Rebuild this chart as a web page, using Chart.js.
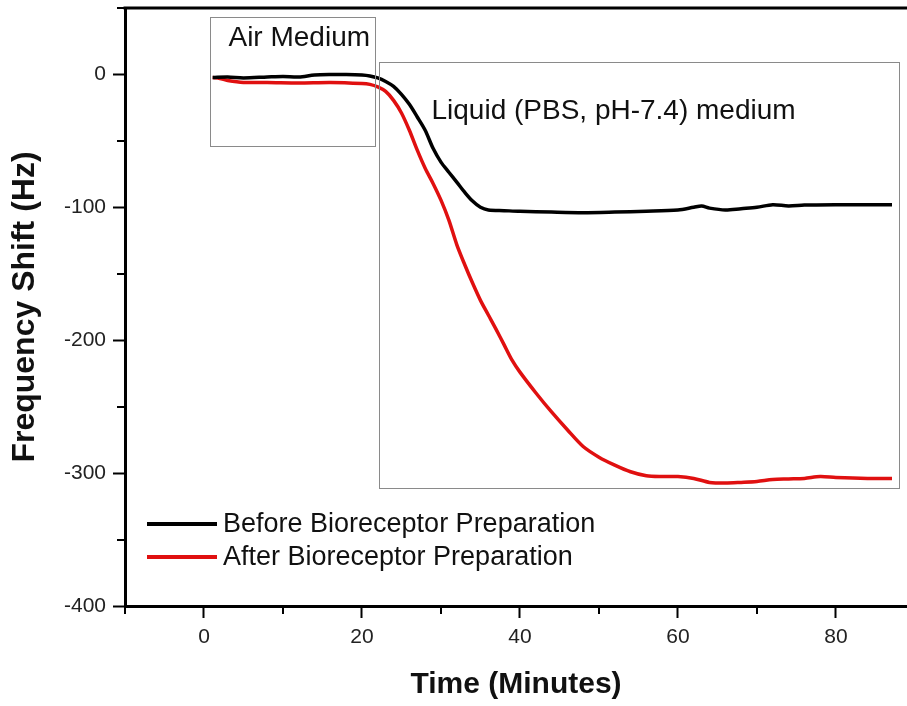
<!DOCTYPE html>
<html>
<head>
<meta charset="utf-8">
<script src="https://cdn.jsdelivr.net/npm/chart.js@4"></script>
<style>
  html, body { margin: 0; padding: 0; background: #fff; }
  #wrap { width: 907px; height: 706px; }
</style>
</head>
<body>
<div id="wrap"><canvas id="freqChart" width="907" height="706"></canvas></div>
<script>
// time in minutes
const beforeTime = [1.1, 3, 5, 8, 10, 12, 14, 16, 18, 20, 21, 22, 23, 24, 25, 26, 27, 28, 29, 30, 31, 32, 33, 34, 35, 36, 38, 40, 44, 48, 52, 56, 60, 62, 63, 64, 66, 68, 70, 72, 74, 76, 80, 84, 87.1];
const beforeShift = [-2.3, -1.9, -2.6, -1.9, -1.5, -1.9, -0.4, 0, 0, -0.4, -1.1, -2.6, -5.3, -9, -15, -22.5, -32, -42, -55.6, -66, -73.6, -81, -88.6, -95.3, -100, -102, -102.5, -103, -103.6, -104, -103.6, -103, -102, -100, -99, -100.6, -102, -101, -100, -98, -99, -98.3, -98, -98, -98];

const afterTime = [1.1, 2, 3, 5, 8, 12, 16, 20, 21, 22, 23, 24, 25, 26, 27, 28, 29, 30, 31, 32, 33, 34, 35, 36, 37, 38, 39, 40, 42, 44, 46, 48, 50, 52, 54, 56, 58, 60, 62, 64, 66, 68, 70, 72, 74, 76, 78, 80, 84, 87.1];
const afterShift = [-2.3, -3, -4.5, -6, -6, -6.4, -6, -6.8, -7.5, -9.4, -12.8, -19.5, -29, -42, -57, -70.6, -82, -94.6, -109.6, -128, -143, -157, -170, -181, -192, -203.5, -215, -224, -239.5, -254, -267.4, -280, -288, -294, -299, -302, -302.6, -302.6, -304, -307, -307.5, -307, -306.3, -304.8, -304.4, -304, -302.6, -303.3, -304, -304];

const seriesLabels = ["Before Bioreceptor Preparation", "After Bioreceptor Preparation"];
const seriesColors = ["#000000", "#e01010"];

// medium regions in data units, with label anchor
const regionBoxes = [
    { x0: 0.8, x1: 21.7, y0: 43.5, y1: -53.3, text: "Air Medium", tx: 3.1, ty: 27 },
    { x0: 22.2, x1: 88.0, y0: 9, y1: -311.6, text: "Liquid (PBS, pH-7.4) medium", tx: 28.8, ty: -27.8 },
];

function toPoints(xs, ys) {
    return xs.map((x, i) => ({ x: x, y: ys[i] }));
}

const FONT = "'Liberation Sans', Arial, sans-serif";

const extrasPlugin = {
    id: "extras",
    afterDraw(chart) {
        const ctx = chart.ctx;
        const xs = chart.scales.x;
        const ys = chart.scales.y;
        const area = chart.chartArea;
        ctx.save();

        // top frame line
        ctx.strokeStyle = "#000";
        ctx.lineWidth = 3;
        ctx.beginPath();
        ctx.moveTo(area.left - 1.5, area.top);
        ctx.lineTo(chart.width, area.top);
        ctx.stroke();

        // minor ticks
        ctx.lineWidth = 2;
        ctx.beginPath();
        xs.ticks.forEach(t => {
            if (t.value % 20 !== 0) {
                const px = Math.round(xs.getPixelForValue(t.value));
                ctx.moveTo(px, area.bottom);
                ctx.lineTo(px, area.bottom + 8);
            }
        });
        ys.ticks.forEach(t => {
            if (t.value % 100 !== 0) {
                const py = Math.round(ys.getPixelForValue(t.value));
                ctx.moveTo(area.left, py);
                ctx.lineTo(area.left - 8, py);
            }
        });
        ctx.stroke();

        // region boxes
        ctx.strokeStyle = "#8a8a8a";
        ctx.lineWidth = 1;
        ctx.fillStyle = "#111";
        ctx.font = "28px " + FONT;
        ctx.textBaseline = "middle";
        regionBoxes.forEach(b => {
            const l = xs.getPixelForValue(b.x0), r = xs.getPixelForValue(b.x1);
            const t = ys.getPixelForValue(b.y0), btm = ys.getPixelForValue(b.y1);
            ctx.strokeRect(Math.round(l) + 0.5, Math.round(t) + 0.5, Math.round(r - l), Math.round(btm - t));
            ctx.fillText(b.text, xs.getPixelForValue(b.tx), ys.getPixelForValue(b.ty));
        });

        // legend
        ctx.font = "27px " + FONT;
        chart.data.datasets.forEach((ds, i) => {
            const y = 524 + i * 33;
            ctx.strokeStyle = ds.borderColor;
            ctx.lineWidth = 4;
            ctx.beginPath();
            ctx.moveTo(147, y);
            ctx.lineTo(217, y);
            ctx.stroke();
            ctx.fillStyle = "#111";
            ctx.fillText(ds.label, 223, y + 1);
        });
        ctx.restore();
    },
};

new Chart(document.getElementById("freqChart"), {
    type: "line",
    data: {
        datasets: [
            {
                label: seriesLabels[0],
                data: toPoints(beforeTime, beforeShift),
                borderColor: seriesColors[0],
                borderWidth: 3.5,
                pointRadius: 0,
                tension: 0.3,
            },
            {
                label: seriesLabels[1],
                data: toPoints(afterTime, afterShift),
                borderColor: seriesColors[1],
                borderWidth: 3.5,
                pointRadius: 0,
                tension: 0.3,
            },
        ],
    },
    options: {
        responsive: false,
        animation: false,
        layout: { padding: { top: 8, right: 0, left: 0, bottom: 0 } },
        plugins: { legend: { display: false }, tooltip: { enabled: false } },
        scales: {
            x: {
                type: "linear",
                min: -10,
                max: 89,
                afterFit(scale) {
                    scale.height = 100;
                    scale.paddingLeft = 0;
                    scale.paddingRight = 0;
                },
                ticks: {
                    stepSize: 10,
                    includeBounds: false,
                    autoSkip: false,
                    maxRotation: 0,
                    padding: 7,
                    color: "#222",
                    font: { family: FONT, size: 21 },
                    callback: v => (v % 20 === 0 && v >= 0 ? String(v) : ""),
                },
                grid: {
                    drawOnChartArea: false,
                    tickLength: 12,
                    tickWidth: 2,
                    tickColor: c => (c.tick && c.tick.value % 20 === 0 ? "#000" : "rgba(0,0,0,0)"),
                },
                border: { color: "#000", width: 3 },
                title: {
                    display: true,
                    text: "Time (Minutes)",
                    color: "#111",
                    font: { family: FONT, size: 30, weight: "bold", lineHeight: 1 },
                    padding: { top: 0, bottom: 6 },
                },
            },
            y: {
                min: -400,
                max: 50,
                afterFit(scale) {
                    scale.width = 125;
                    scale.paddingTop = 0;
                    scale.paddingBottom = 0;
                },
                ticks: {
                    stepSize: 50,
                    autoSkip: false,
                    padding: 7,
                    color: "#222",
                    font: { family: FONT, size: 21 },
                    callback: v => (v % 100 === 0 ? String(v) : ""),
                },
                grid: {
                    drawOnChartArea: false,
                    tickLength: 12,
                    tickWidth: 2,
                    tickColor: c => (c.tick && c.tick.value % 100 === 0 ? "#000" : "rgba(0,0,0,0)"),
                },
                border: { color: "#000", width: 3 },
                title: {
                    display: true,
                    text: "Frequency Shift (Hz)",
                    color: "#111",
                    font: { family: FONT, size: 32, weight: "bold", lineHeight: 1 },
                    padding: { top: 9, bottom: 0 },
                },
            },
        },
    },
    plugins: [extrasPlugin],
});
</script>
</body>
</html>
